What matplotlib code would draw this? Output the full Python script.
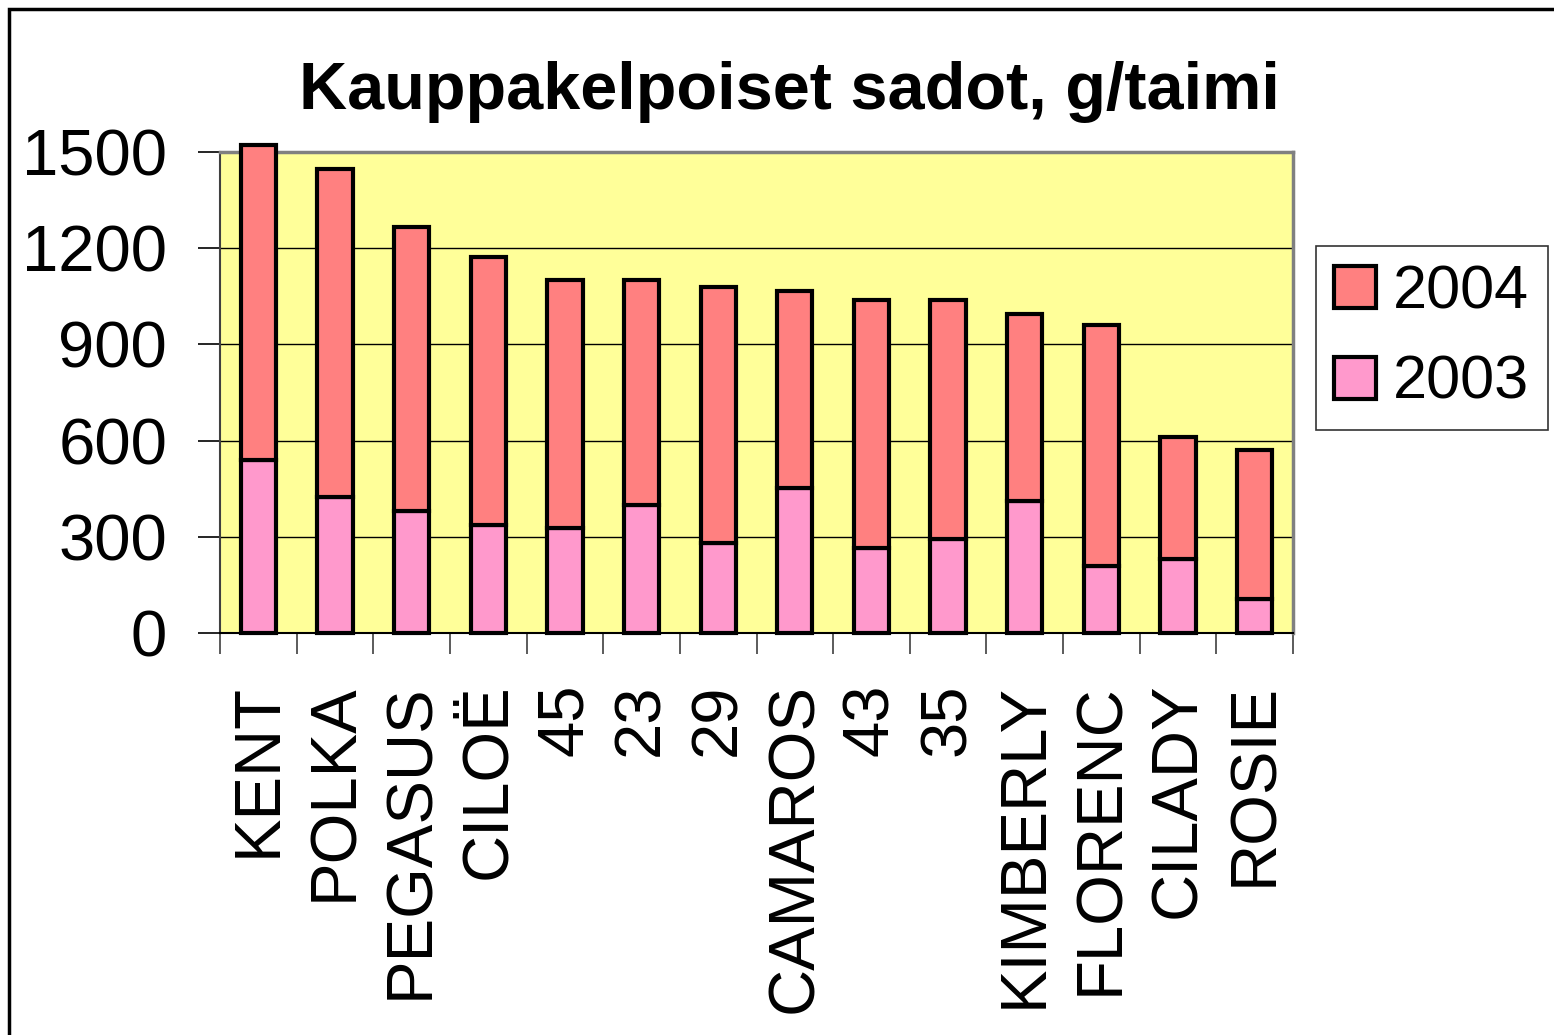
import numpy as np
import matplotlib
matplotlib.use("Agg")
import matplotlib.pyplot as plt
from matplotlib.patches import Rectangle

plt.rcParams['font.family'] = ['Liberation Sans', 'DejaVu Sans']

# data
varieties = ['KENT', 'POLKA', 'PEGASUS', 'CILOË', '45', '23', '29', 'CAMAROS',
             '43', '35', 'KIMBERLY', 'FLORENC', 'CILADY', 'ROSIE']
yield_2003 = [540, 424, 380, 337, 327, 399, 281, 452, 265, 293, 412, 209, 231, 106]
yield_2004 = [982, 1023, 886, 836, 774, 702, 798, 615, 774, 746, 583, 752, 380, 465]
yticks = [0, 300, 600, 900, 1200, 1500]

fig = plt.figure(figsize=(15.54, 10.35), dpi=100)
ax = fig.add_axes([220 / 1554, 1 - 633 / 1035, 1073 / 1554, 481 / 1035])
ax.set_facecolor('#FFFF99')

x = np.arange(len(varieties))
w = 0.46
b1 = ax.bar(x, yield_2003, w, color='#FF99CC', edgecolor='black', linewidth=3,
            label='2003', zorder=3, clip_on=False)
b2 = ax.bar(x, yield_2004, w, bottom=yield_2003, color='#FF8080', edgecolor='black',
            linewidth=3, label='2004', zorder=3, clip_on=False)

ax.set_xlim(-0.5, len(varieties) - 0.5)
ax.set_ylim(0, 1500)
ax.set_yticks(yticks)
ax.set_yticklabels([str(v) for v in yticks], fontsize=47)
ax.yaxis.grid(True, color='black', linewidth=1)
ax.set_axisbelow(True)

ax.set_xticks(x)
ax.set_xticklabels(varieties, rotation=90, fontsize=47)
ax.set_xticks(np.arange(-0.5, len(varieties)), minor=True)
ax.tick_params(axis='x', which='major', length=0, pad=36)
ax.tick_params(axis='x', which='minor', length=15, width=1.2, color='#404040')
ax.tick_params(axis='y', length=16, width=1.2, pad=22)

for s in ['top', 'right']:
    ax.spines[s].set_color('#808080')
    ax.spines[s].set_linewidth(2.5)
ax.spines['left'].set_color('#404040')
ax.spines['left'].set_linewidth(1.5)
ax.spines['bottom'].set_color('black')
ax.spines['bottom'].set_linewidth(1.5)

fig.text(789 / 1554, 1 - 92 / 1035, 'Kauppakelpoiset sadot, g/taimi', fontsize=48,
         fontweight='bold', ha='center', va='center')

leg = fig.legend([b2, b1], ['2004', '2003'], loc='upper left',
                 bbox_to_anchor=(1316 / 1554, 1 - 246 / 1035), fontsize=44,
                 frameon=True, fancybox=False, edgecolor='black',
                 handlelength=0.68, handleheight=0.68, handletextpad=0.28,
                 borderpad=0.3, labelspacing=0.55, borderaxespad=0)
leg.get_frame().set_linewidth(1.2)

# outer chart border
fig.patches.append(Rectangle((9 / 1554, -0.05), 1.1, 1 - 9 / 1035 + 0.05,
                             transform=fig.transFigure, fill=False,
                             edgecolor='black', linewidth=2.5))

fig.savefig('out.png', dpi=100)
